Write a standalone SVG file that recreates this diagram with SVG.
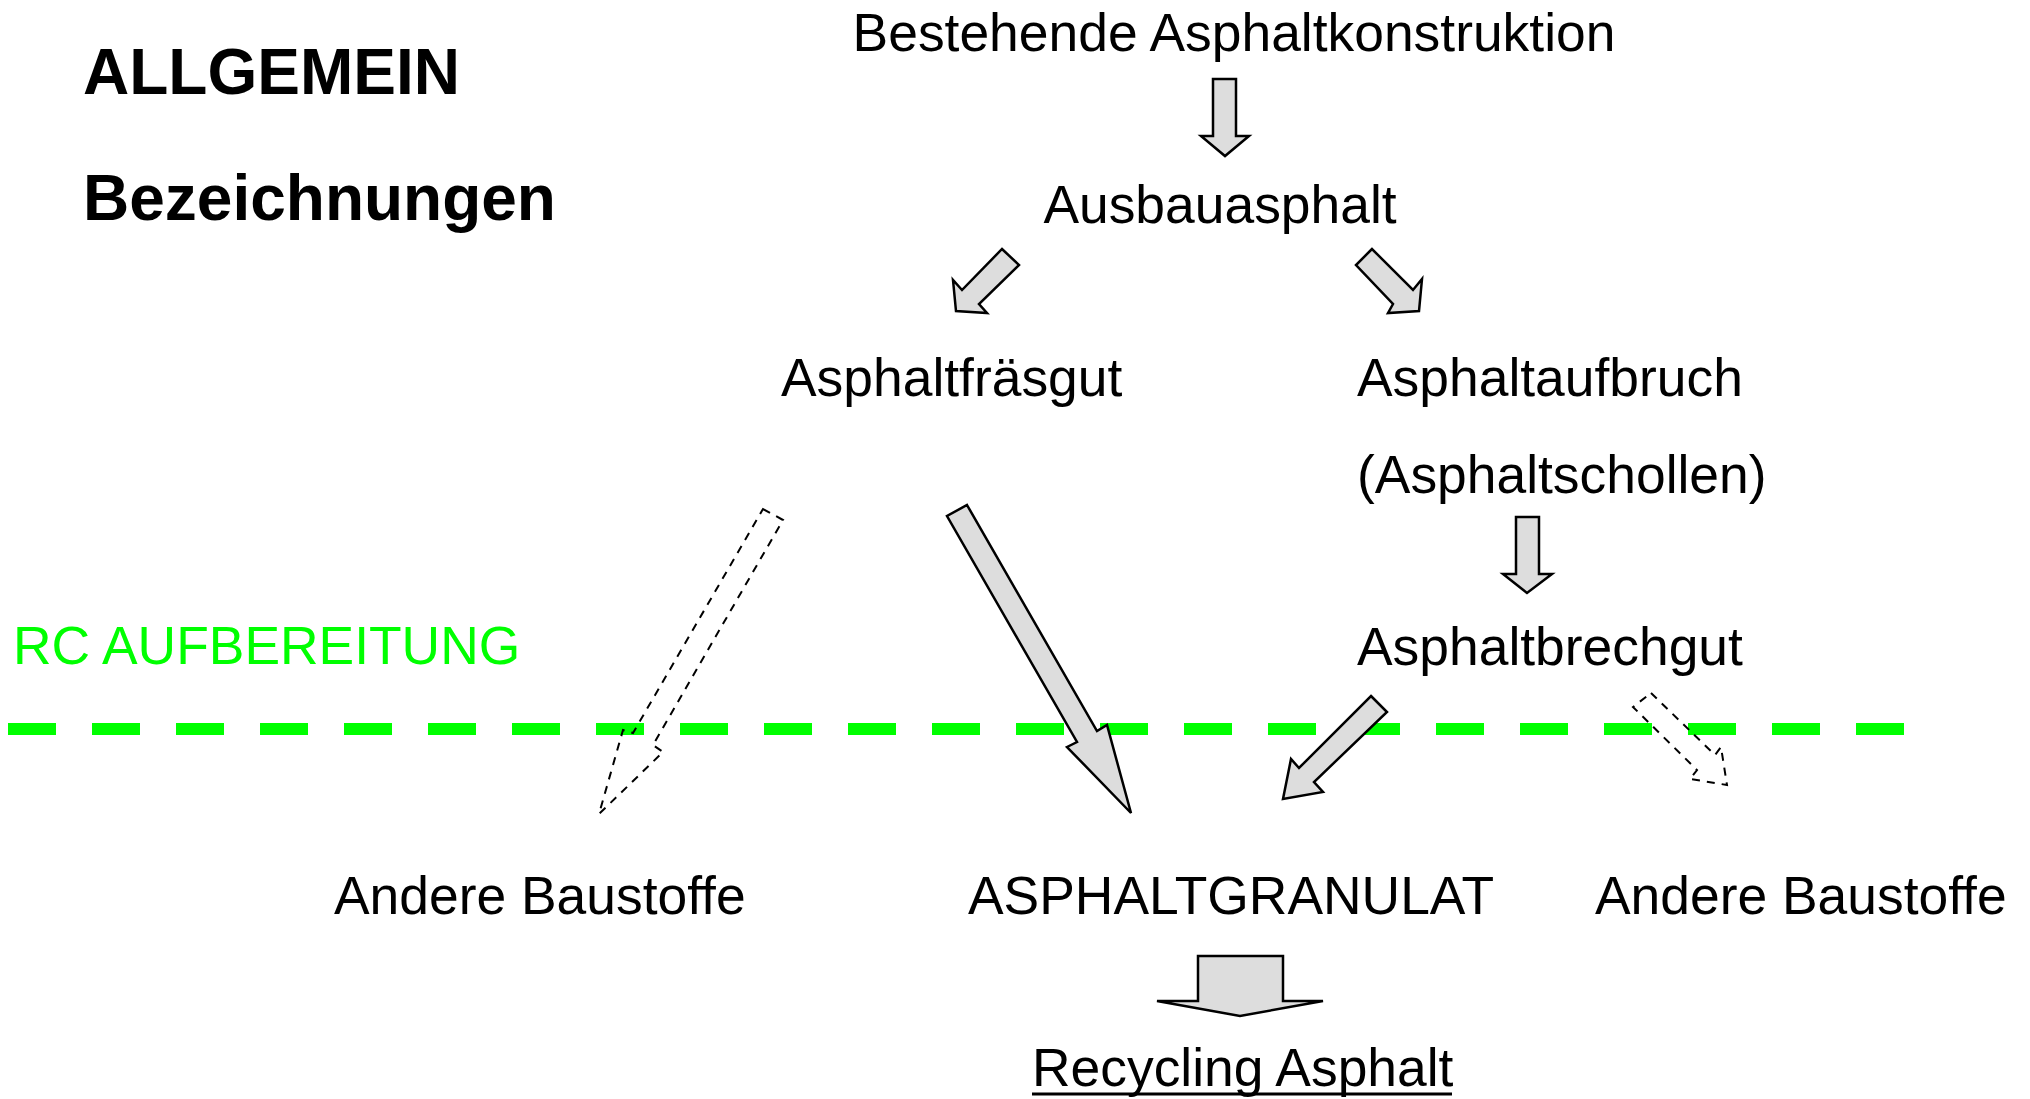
<svg xmlns="http://www.w3.org/2000/svg" width="2030" height="1099" viewBox="0 0 2030 1099">
<style>
text{font-family:"Liberation Sans",Arial,sans-serif;font-size:53.4px;fill:#000}
.h{font-weight:bold;font-size:64px}
.g{fill:#00ff00}
.a{fill:#dddddd;stroke:#000;stroke-width:2.5;stroke-linejoin:miter}
.d{fill:none;stroke:#000;stroke-width:2;stroke-dasharray:8 7}
</style>
<rect width="2030" height="1099" fill="#fff"/>
<g id="titles">
<text class="h" x="83" y="94">ALLGEMEIN</text>
<text class="h" x="83" y="220">Bezeichnungen</text>
</g>
<g id="separator">
<line x1="8" y1="729" x2="1904" y2="729" stroke="#00ff00" stroke-width="12" stroke-dasharray="48 36"/>
<text class="g" x="13" y="664" style="fill:#00ff00">RC AUFBEREITUNG</text>
</g>
<g id="n-bestehende"><text x="1234" y="51" text-anchor="middle">Bestehende Asphaltkonstruktion</text></g>
<g id="n-ausbau"><text x="1220" y="223" text-anchor="middle">Ausbauasphalt</text></g>
<g id="n-fraesgut"><text x="781" y="396">Asphaltfräsgut</text></g>
<g id="n-aufbruch"><text x="1357" y="396">Asphaltaufbruch</text><text x="1357" y="493">(Asphaltschollen)</text></g>
<g id="n-brechgut"><text x="1357" y="665">Asphaltbrechgut</text></g>
<g id="n-andere1"><text x="334" y="914">Andere Baustoffe</text></g>
<g id="n-granulat"><text x="968" y="914">ASPHALTGRANULAT</text></g>
<g id="n-andere2"><text x="1595" y="914">Andere Baustoffe</text></g>
<g id="n-recycling"><text x="1032" y="1086">Recycling Asphalt</text><line x1="1032" y1="1094" x2="1452" y2="1094" stroke="#000" stroke-width="3"/></g>
<g id="connectors">
<polygon class="a" points="1213,79 1236,79 1236,136 1249,136 1225,156 1201,136 1213,136"/>
<polygon class="a" points="1002,249 1019,265 979,304 987,313 956,311 953,280 962,290"/>
<polygon class="a" points="1372,249 1356,265 1393,304 1388,313 1419,311 1422,279 1413,290"/>
<polygon class="a" points="967,505 1097,731 1107,725 1131,813 1067,747 1077,742 947,516"/>
<polygon class="a" points="1516,517 1539,517 1539,574 1552,574 1527,593 1503,574 1516,574"/>
<polygon class="a" points="1371,696 1387,712 1314,782 1323,792 1283,799 1291,759 1299,768"/>
<polygon class="a" points="1198,956 1283,956 1283,1001 1323,1001 1240,1016 1157,1001 1198,1001"/>
<polygon class="d" points="763,509 783,520 653,745 663,752 599,814 623,730 633,733"/>
<polygon class="d" points="1651,693 1715,755 1721,747 1727,785 1690,779 1697,770 1633,707"/>
</g>
</svg>
